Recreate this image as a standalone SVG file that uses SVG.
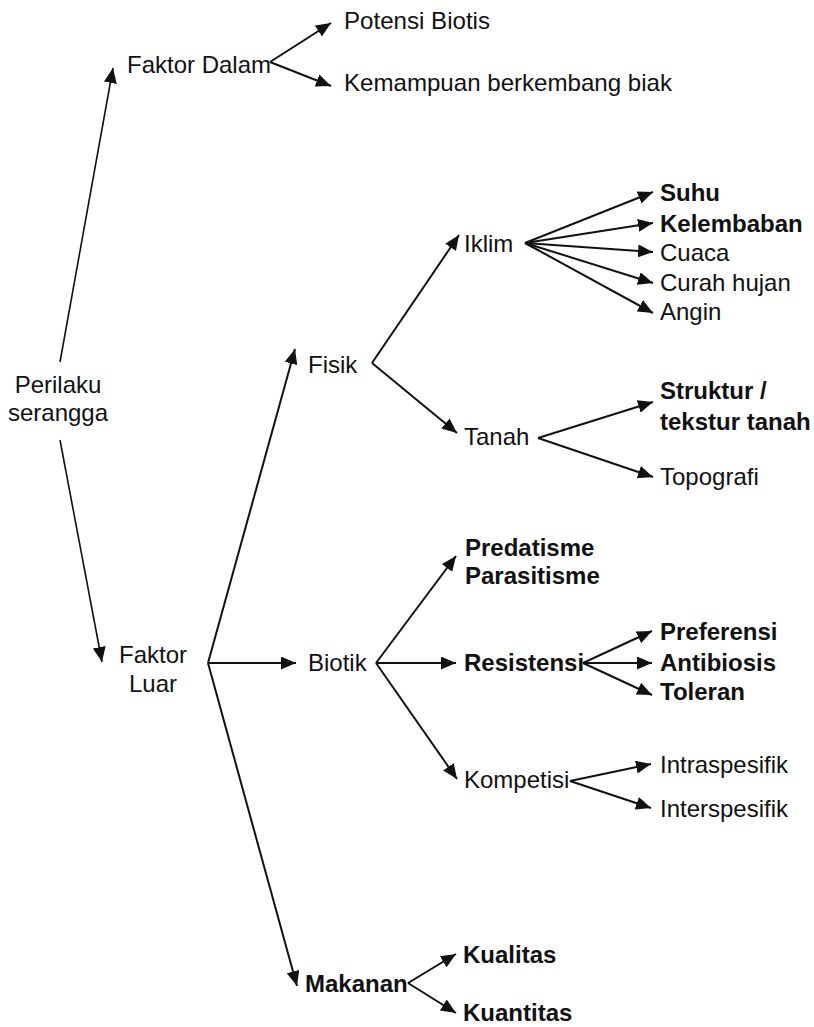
<svg xmlns="http://www.w3.org/2000/svg" width="814" height="1027" viewBox="0 0 814 1027">
<defs>
<marker id="ah" markerUnits="userSpaceOnUse" markerWidth="16" markerHeight="13" refX="15" refY="6.5" orient="auto">
<path d="M0,0 L15,6.5 L0,13 z" fill="#111"/>
</marker>
<style>
text{font-family:"Liberation Sans",Arial,sans-serif;font-size:24px;fill:#111}
.b{font-weight:bold}
.m{text-anchor:middle}
.c line{stroke:#111;stroke-width:2;marker-end:url(#ah)}
</style>
</defs>
<rect width="814" height="1027" fill="#fff"/>
<g class="c" id="connectors">
<line x1="60" y1="362" x2="113" y2="68" style="stroke-width:1.6"/>
<line x1="60" y1="440" x2="102" y2="662" style="stroke-width:1.6"/>
<line x1="270" y1="62" x2="331" y2="23"/>
<line x1="270" y1="62" x2="331" y2="86"/>
<line x1="208" y1="663" x2="295" y2="349"/>
<line x1="208" y1="663" x2="296" y2="663"/>
<line x1="208" y1="663" x2="297" y2="986"/>
<line x1="372" y1="363" x2="459" y2="235"/>
<line x1="372" y1="363" x2="457" y2="433"/>
<line x1="525" y1="243" x2="653" y2="192"/>
<line x1="525" y1="243" x2="653" y2="223"/>
<line x1="525" y1="243" x2="653" y2="252"/>
<line x1="525" y1="243" x2="653" y2="283"/>
<line x1="525" y1="243" x2="653" y2="313"/>
<line x1="538" y1="438" x2="653" y2="402"/>
<line x1="538" y1="438" x2="653" y2="477"/>
<line x1="376" y1="663" x2="456" y2="556"/>
<line x1="376" y1="663" x2="456" y2="663"/>
<line x1="376" y1="663" x2="457" y2="779"/>
<line x1="583" y1="663" x2="652" y2="631"/>
<line x1="583" y1="663" x2="652" y2="663"/>
<line x1="583" y1="663" x2="652" y2="695"/>
<line x1="570" y1="781" x2="651" y2="764"/>
<line x1="570" y1="781" x2="651" y2="808"/>
<line x1="408" y1="983" x2="456" y2="954"/>
<line x1="408" y1="983" x2="456" y2="1013"/>
</g>
<g id="perilaku"><text class="m" x="58" y="393">Perilaku</text><text class="m" x="58" y="421">serangga</text></g>
<g id="faktor-dalam"><text x="127" y="73" textLength="144" lengthAdjust="spacingAndGlyphs">Faktor Dalam</text></g>
<g id="potensi"><text x="344" y="29" textLength="146" lengthAdjust="spacingAndGlyphs">Potensi Biotis</text></g>
<g id="kemampuan"><text x="344" y="91" textLength="328" lengthAdjust="spacingAndGlyphs">Kemampuan berkembang biak</text></g>
<g id="faktor-luar"><text class="m" x="153" y="663">Faktor</text><text class="m" x="153" y="692">Luar</text></g>
<g id="fisik"><text x="308" y="373">Fisik</text></g>
<g id="iklim"><text x="464" y="252">Iklim</text></g>
<g id="suhu"><text class="b" x="660" y="201">Suhu</text></g>
<g id="kelembaban"><text class="b" x="660" y="232">Kelembaban</text></g>
<g id="cuaca"><text x="660" y="261">Cuaca</text></g>
<g id="curah"><text x="660" y="291">Curah hujan</text></g>
<g id="angin"><text x="660" y="320">Angin</text></g>
<g id="tanah"><text x="464" y="445">Tanah</text></g>
<g id="struktur"><text class="b" x="660" y="399">Struktur /</text><text class="b" x="660" y="430">tekstur tanah</text></g>
<g id="topografi"><text x="660" y="485">Topografi</text></g>
<g id="biotik"><text x="308" y="671">Biotik</text></g>
<g id="predatisme"><text class="b" x="465" y="556">Predatisme</text><text class="b" x="465" y="584">Parasitisme</text></g>
<g id="resistensi"><text class="b" x="464" y="671">Resistensi</text></g>
<g id="preferensi"><text class="b" x="660" y="640">Preferensi</text></g>
<g id="antibiosis"><text class="b" x="660" y="671">Antibiosis</text></g>
<g id="toleran"><text class="b" x="660" y="700">Toleran</text></g>
<g id="kompetisi"><text x="464" y="788">Kompetisi</text></g>
<g id="intra"><text x="660" y="773">Intraspesifik</text></g>
<g id="inter"><text x="660" y="817">Interspesifik</text></g>
<g id="makanan"><text class="b" x="305" y="992">Makanan</text></g>
<g id="kualitas"><text class="b" x="463" y="963">Kualitas</text></g>
<g id="kuantitas"><text class="b" x="463" y="1021">Kuantitas</text></g>
</svg>
